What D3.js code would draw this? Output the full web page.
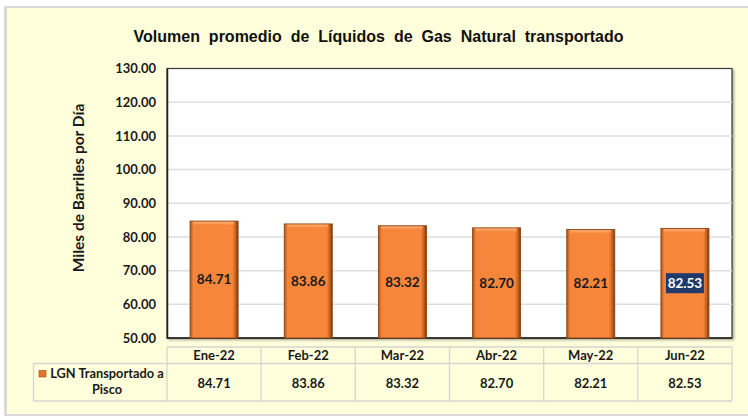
<!DOCTYPE html>
<html>
<head>
<meta charset="utf-8">
<script src="https://cdn.jsdelivr.net/npm/d3@7/dist/d3.min.js"></script>
<style>
  html, body { margin: 0; padding: 0; background: #ffffff; }
  svg { display: block; }
</style>
</head>
<body>
<svg id="chart" width="748" height="417"></svg>
<script>
const categories = ["Ene-22", "Feb-22", "Mar-22", "Abr-22", "May-22", "Jun-22"];
const values = [84.71, 83.86, 83.32, 82.70, 82.21, 82.53];
const yTicks = [50, 60, 70, 80, 90, 100, 110, 120, 130];
const seriesName = ["LGN Transportado a", "Pisco"];
const titleText = "Volumen promedio de Líquidos de Gas Natural transportado";
const yTitle = "Miles de Barriles por Día";
const highlightIndex = 5;

const svg = d3.select("#chart");
const labelFont = "Lato, 'Open Sans', sans-serif";

// defs
const defs = svg.append("defs");
const gH = defs.append("linearGradient").attr("id", "barH").attr("x1", 0).attr("x2", 1).attr("y1", 0).attr("y2", 0);
gH.append("stop").attr("offset", "0%").attr("stop-color", "#b0541a");
gH.append("stop").attr("offset", "7%").attr("stop-color", "#f5853a");
gH.append("stop").attr("offset", "88%").attr("stop-color", "#f8873b");
gH.append("stop").attr("offset", "95%").attr("stop-color", "#c2601d");
gH.append("stop").attr("offset", "100%").attr("stop-color", "#6e3510");
const gV = defs.append("linearGradient").attr("id", "barTop").attr("x1", 0).attr("x2", 0).attr("y1", 0).attr("y2", 1);
gV.append("stop").attr("offset", "0%").attr("stop-color", "#ffb27a");
gV.append("stop").attr("offset", "100%").attr("stop-color", "#f8873b");
const sh = defs.append("filter").attr("id", "shadow").attr("x", "-10%").attr("y", "-10%").attr("width", "130%").attr("height", "130%");
sh.append("feDropShadow").attr("dx", 1.5).attr("dy", 1.5).attr("stdDeviation", 1).attr("flood-color", "#000").attr("flood-opacity", 0.35);

// panel
svg.append("rect").attr("x", 4).attr("y", 6).attr("width", 760).attr("height", 410)
  .attr("fill", "#d9d9d9");
svg.append("rect").attr("x", 7).attr("y", 8).attr("width", 760).attr("height", 406)
  .attr("fill", "#ffffdc");

// plot area
const plot = { left: 167, right: 732, top: 68.5, bottom: 338 };
const x = d3.scaleBand().domain(categories).range([plot.left, plot.right]).paddingInner(0.49).paddingOuter(0.245);
const y = d3.scaleLinear().domain([50, 130]).range([plot.bottom, plot.top]);

svg.append("rect").attr("x", plot.left).attr("y", plot.top)
  .attr("width", plot.right - plot.left).attr("height", plot.bottom - plot.top)
  .attr("fill", "#ffffff").attr("stroke", "#3a3a3a").attr("stroke-width", 1.2)
  .attr("filter", "url(#shadow)");

// gridlines
svg.append("g").selectAll("line").data(yTicks.filter(t => t > 50 && t < 130)).join("line")
  .attr("x1", plot.left).attr("x2", plot.right)
  .attr("y1", d => y(d)).attr("y2", d => y(d))
  .attr("stroke", "#dedede").attr("stroke-width", 1.5);

// y axis
const yAxis = d3.axisLeft(y).tickValues(yTicks).tickFormat(d3.format(".2f")).tickSize(0).tickPadding(11);
const yg = svg.append("g").attr("transform", `translate(${plot.left},0)`).call(yAxis);
yg.select(".domain").attr("stroke", "#222").attr("stroke-width", 1.5);
yg.selectAll("text").attr("font-family", labelFont).attr("font-weight", "bold")
  .attr("font-size", "13px").attr("fill", "#1a1a1a");

svg.append("line").attr("x1", plot.left).attr("x2", plot.right)
  .attr("y1", plot.bottom).attr("y2", plot.bottom).attr("stroke", "#222").attr("stroke-width", 1.5);

// bars
const bars = svg.append("g");
bars.selectAll("rect.bar").data(values).join("rect").attr("class", "bar")
  .attr("x", (d, i) => x(categories[i])).attr("width", x.bandwidth())
  .attr("y", d => y(d)).attr("height", d => y(50) - y(d))
  .attr("fill", "url(#barH)").attr("stroke", "#8e4615").attr("stroke-width", 0.9);
bars.selectAll("rect.top").data(values).join("rect").attr("class", "top")
  .attr("x", (d, i) => x(categories[i]) + 3).attr("width", x.bandwidth() - 7)
  .attr("y", d => y(d) + 0.8).attr("height", 3)
  .attr("fill", "url(#barTop)");

// bar labels
const lbl = svg.append("g");
values.forEach((v, i) => {
  const cx = x(categories[i]) + x.bandwidth() / 2;
  const cy = (y(v) + y(50)) / 2;
  if (i === highlightIndex) {
    lbl.append("rect").attr("x", cx - 19).attr("y", cy - 10).attr("width", 38).attr("height", 20)
      .attr("fill", "#1f3a6b");
  }
  lbl.append("text").attr("x", cx).attr("y", cy).attr("dy", "0.35em")
    .attr("text-anchor", "middle").attr("font-family", labelFont).attr("font-weight", "bold")
    .attr("font-size", "13.5px").attr("fill", i === highlightIndex ? "#ffffff" : "#1a1a1a")
    .text(d3.format(".2f")(v));
});

// y title
svg.append("text").attr("transform", "translate(84,188) rotate(-90)")
  .attr("text-anchor", "middle").attr("font-family", labelFont).attr("font-weight", "bold")
  .attr("font-size", "15.5px").attr("fill", "#1a1a1a").text(yTitle);

// title
svg.append("text").attr("x", 378.5).attr("y", 41.5).attr("text-anchor", "middle")
  .attr("font-family", "'Liberation Sans', Arial, sans-serif").attr("font-weight", "bold")
  .attr("font-size", "16px").attr("word-spacing", "4.5px").attr("fill", "#111").text(titleText);

// data table
const tbl = svg.append("g");
const step = x.step();
const rowTop = 347, rowMid = 363.5, rowBot = 401, legLeft = 33.5;
const cols = categories.map((c, i) => plot.left + i * step);
const tStroke = "#d6d6cf";
tbl.append("line").attr("x1", plot.left).attr("x2", plot.right).attr("y1", rowTop).attr("y2", rowTop).attr("stroke", tStroke).attr("stroke-width", 1.3);
tbl.append("line").attr("x1", legLeft).attr("x2", plot.right).attr("y1", rowMid).attr("y2", rowMid).attr("stroke", tStroke).attr("stroke-width", 1.3);
tbl.append("line").attr("x1", legLeft).attr("x2", plot.right).attr("y1", rowBot).attr("y2", rowBot).attr("stroke", tStroke).attr("stroke-width", 1.3);
tbl.append("line").attr("x1", legLeft).attr("x2", legLeft).attr("y1", rowMid).attr("y2", rowBot).attr("stroke", tStroke).attr("stroke-width", 1.3);
cols.concat([plot.right]).forEach(cx => {
  tbl.append("line").attr("x1", cx).attr("x2", cx).attr("y1", rowTop).attr("y2", rowBot).attr("stroke", tStroke).attr("stroke-width", 1.3);
});
categories.forEach((c, i) => {
  const cx = x(c) + x.bandwidth() / 2;
  tbl.append("text").attr("x", cx).attr("y", (rowTop + rowMid) / 2).attr("dy", "0.36em")
    .attr("text-anchor", "middle").attr("font-family", labelFont).attr("font-weight", "bold")
    .attr("font-size", "13px").attr("fill", "#1a1a1a").text(c);
  tbl.append("text").attr("x", cx).attr("y", (rowMid + rowBot) / 2 + 1).attr("dy", "0.36em")
    .attr("text-anchor", "middle").attr("font-family", labelFont).attr("font-weight", "bold")
    .attr("font-size", "13px").attr("fill", "#1a1a1a").text(d3.format(".2f")(values[i]));
});
tbl.append("rect").attr("x", 39).attr("y", 370.5).attr("width", 7).attr("height", 6.5)
  .attr("fill", "#e2742c").attr("stroke", "#9c4f18").attr("stroke-width", 0.6);
seriesName.forEach((s, k) => {
  tbl.append("text").attr("x", 107).attr("y", 377.5 + k * 16.5).attr("text-anchor", "middle")
    .attr("font-family", labelFont).attr("font-weight", "bold").attr("font-size", "12.8px")
    .attr("fill", "#1a1a1a").text(s);
});
</script>
</body>
</html>
